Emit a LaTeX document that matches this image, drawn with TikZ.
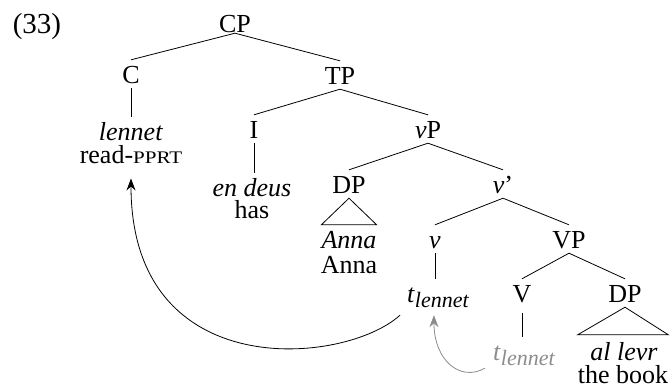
\documentclass[tikz,border=0pt]{standalone}
\usepackage{fontspec}
\setmainfont{Liberation Serif}
\usepackage{graphicx}
\usetikzlibrary{arrows.meta}
\newcommand{\fakesc}[1]{\scalebox{0.81}[0.68]{#1}}
\newcommand{\tsub}[1]{\textit{t}\raisebox{-5pt}{\fontsize{22}{22}\selectfont\itshape #1}}
\begin{document}
\begin{tikzpicture}[x=1pt,y=-1pt,
  lbl/.style={inner sep=0pt, anchor=base, text height=23pt, text depth=5pt, font=\fontsize{26}{30}\selectfont},
  gloss/.style={inner sep=0pt, anchor=base, font=\fontsize{26}{30}\selectfont},
  edge/.style={line width=0.8pt},
  tip/.style={-{Stealth[length=12pt,width=9pt,inset=4pt]}}]
\useasboundingbox (0,0) rectangle (670,386);
\node[gloss, font=\fontsize{29}{32}\selectfont] (ex) at (37,33) {(33)};
\node[lbl] (CP) at (235,32) {CP};
\node[lbl] (C) at (131,83) {C};
\node[lbl] (TP) at (340,84) {TP};
\node[lbl] (len) at (131,140) {\textit{lennet}};
\node[gloss] (rp) at (131,163) {read-\fakesc{PPRT}};
\node[lbl] (I) at (254,138) {I};
\node[lbl] (ed) at (252,196) {\textit{en deus}};
\node[gloss] (has) at (252,218) {has};
\node[lbl] (vP) at (428,138) {\textit{v}P};
\node[lbl] (DPa) at (349,193) {DP};
\node[lbl] (vbar) at (503,193) {\textit{v}'};
\node[lbl] (annai) at (349,248) {\textit{Anna}};
\node[gloss] (anna) at (349,273) {Anna};
\node[lbl] (v) at (435,248) {\textit{v}};
\node[lbl] (VP) at (569,248) {VP};
\node[lbl, anchor=base west] (t) at (407,302) {\tsub{lennet}};
\node[lbl] (V) at (522,302) {V};
\node[lbl] (DPb) at (625,302) {DP};
\node[lbl, anchor=base west, text=black!45] (gt) at (493,360) {\tsub{lennet}};
\node[gloss, text height=23pt] (alevr) at (624,360) {\textit{al levr}};
\node[gloss] (book) at (623,383) {the book};

\draw[edge] ([yshift=4pt]CP.south) -- (C.north);
\draw[edge] ([yshift=4pt]CP.south) -- (TP.north);
\draw[edge] (C.south) -- (C.south |- len.north);
\draw[edge] (TP.south) -- (I.north);
\draw[edge] (TP.south) -- (vP.north);
\draw[edge] (I.south) -- (I.south |- ed.north);
\draw[edge] (vP.south) -- (DPa.north);
\draw[edge] (vP.south) -- (vbar.north);
\draw[edge] (DPa.south) -- (annai.north west) -- (annai.north east) -- cycle;
\draw[edge] (vbar.south) -- (v.north);
\draw[edge] (vbar.south) -- (VP.north);
\draw[edge] (v.south) -- (v.south |- t.north);
\draw[edge] (VP.south) -- (V.north);
\draw[edge] (VP.south) -- (DPb.north);
\draw[edge] ([yshift=-6pt]V.south) -- (V.south |- gt.north);
\draw[edge] (DPb.south) -- ([yshift=2pt]alevr.north -| book.west) -- ([yshift=2pt]alevr.north -| book.east) -- cycle;

\draw[edge, tip] ([shift={(-7pt,-8pt)}]t.south west) .. controls +(-55pt,-50pt) and +(0pt,-207pt) .. ([yshift=-15pt]rp.south);
\draw[edge, tip, black!45] ([shift={(-8pt,-3pt)}]gt.south west) .. controls +(-25pt,-14pt) and +(0pt,-45pt) .. ([shift={(-4pt,-8pt)}]t.south);
\end{tikzpicture}
\end{document}
